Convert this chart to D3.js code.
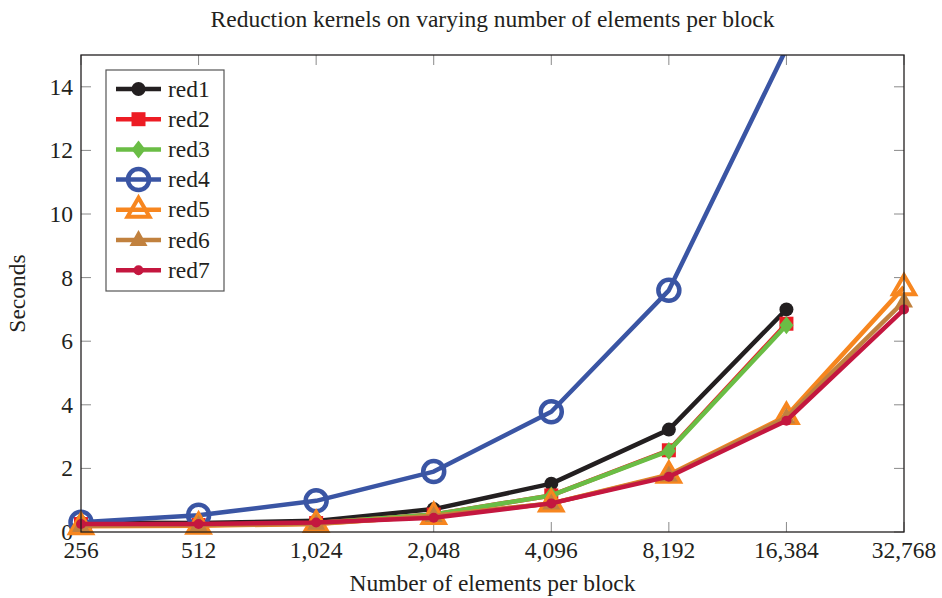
<!DOCTYPE html>
<html>
<head>
<meta charset="utf-8">
<script src="https://cdn.jsdelivr.net/npm/d3@7"></script>
<style>
  body { margin: 0; background: #fff; }
  svg { display: block; font-family: 'Liberation Serif', 'DejaVu Serif', serif; }
</style>
</head>
<body>
<div id="chart"></div>
<script>
var sizes = [256, 512, 1024, 2048, 4096, 8192, 16384, 32768];
var tickLabels = ['256', '512', '1,024', '2,048', '4,096', '8,192', '16,384', '32,768'];
var yTicks = [0, 2, 4, 6, 8, 10, 12, 14];

var red1 = [0.30, 0.28, 0.35, 0.72, 1.52, 3.22, 7.0];
var red2 = [0.25, 0.22, 0.28, 0.55, 1.15, 2.57, 6.55];
var red3 = [0.25, 0.22, 0.28, 0.55, 1.15, 2.55, 6.5];
var red4 = [0.31, 0.53, 0.98, 1.9, 3.78, 7.6, 15.2];
var red5 = [0.18, 0.20, 0.25, 0.50, 0.90, 1.80, 3.65, 7.7];
var red6 = [0.20, 0.22, 0.26, 0.50, 0.90, 1.78, 3.6, 7.25];
var red7 = [0.25, 0.25, 0.30, 0.45, 0.90, 1.74, 3.5, 7.0];

var names = ['red1', 'red2', 'red3', 'red4', 'red5', 'red6', 'red7'];
var seriesValues = [red1, red2, red3, red4, red5, red6, red7];
var colors = ['#231f20', '#ed1c24', '#6abd45', '#3a55a4', '#f7861f', '#c1813e', '#c4173f'];
var markers = ['dot', 'square', 'diamond', 'ring', 'otri', 'tri', 'smalldot'];

var W = 942, H = 598;
var plot = { left: 81, right: 904, top: 55, bottom: 532 };
var fs = 23.5;

var svg = d3.select('#chart')
  .append('svg')
    .attr('width', W)
    .attr('height', H);

var x = d3.scaleLog().base(2).domain([256, 32768]).range([plot.left, plot.right]);
var y = d3.scaleLinear().domain([0, 15]).range([plot.bottom, plot.top]);

svg.append('defs').append('clipPath').attr('id', 'clip')
  .append('rect')
    .attr('x', plot.left).attr('y', plot.top)
    .attr('width', plot.right - plot.left).attr('height', plot.bottom - plot.top);

// ticks (inward, mirrored)
var tk = svg.append('g').attr('stroke', '#8a8a8a').attr('stroke-width', 1);
sizes.forEach(s => {
  tk.append('line').attr('x1', x(s)).attr('x2', x(s)).attr('y1', plot.bottom).attr('y2', plot.bottom - 10);
  tk.append('line').attr('x1', x(s)).attr('x2', x(s)).attr('y1', plot.top).attr('y2', plot.top + 10);
});
yTicks.forEach(v => {
  tk.append('line').attr('x1', plot.left).attr('x2', plot.left + 10).attr('y1', y(v)).attr('y2', y(v));
  tk.append('line').attr('x1', plot.right).attr('x2', plot.right - 10).attr('y1', y(v)).attr('y2', y(v));
});

// tick labels
svg.append('g').selectAll('text').data(sizes).enter().append('text')
  .attr('x', d => x(d)).attr('y', 558)
  .attr('text-anchor', 'middle').attr('font-size', fs).attr('fill', '#231f20')
  .text((d, i) => tickLabels[i]);
svg.append('g').selectAll('text').data(yTicks).enter().append('text')
  .attr('x', 73).attr('y', d => y(d) + 8)
  .attr('text-anchor', 'end').attr('font-size', fs).attr('fill', '#231f20')
  .text(d => d);

// titles
svg.append('text').attr('x', (plot.left + plot.right) / 2).attr('y', 27)
  .attr('text-anchor', 'middle').attr('font-size', fs).attr('fill', '#231f20')
  .text('Reduction kernels on varying number of elements per block');
svg.append('text').attr('x', (plot.left + plot.right) / 2).attr('y', 591)
  .attr('text-anchor', 'middle').attr('font-size', fs).attr('fill', '#231f20')
  .text('Number of elements per block');
svg.append('text').attr('transform', `translate(25, ${(plot.top + plot.bottom) / 2}) rotate(-90)`)
  .attr('text-anchor', 'middle').attr('font-size', fs).attr('fill', '#231f20')
  .text('Seconds');

function drawMarker (g, kind, color, cx, cy) {
  if (kind === 'dot') {
    g.append('circle').attr('cx', cx).attr('cy', cy).attr('r', 7).attr('fill', color);
  } else if (kind === 'smalldot') {
    g.append('circle').attr('cx', cx).attr('cy', cy).attr('r', 5).attr('fill', color);
  } else if (kind === 'ring') {
    g.append('circle').attr('cx', cx).attr('cy', cy).attr('r', 10.5)
      .attr('fill', 'none').attr('stroke', color).attr('stroke-width', 4.5);
  } else if (kind === 'square') {
    g.append('rect').attr('x', cx - 7).attr('y', cy - 7).attr('width', 14).attr('height', 14).attr('fill', color);
  } else if (kind === 'diamond') {
    g.append('path').attr('d', `M${cx},${cy - 9}L${cx + 7},${cy}L${cx},${cy + 9}L${cx - 7},${cy}Z`).attr('fill', color);
  } else if (kind === 'otri') {
    g.append('path').attr('d', `M${cx},${cy - 12}L${cx + 11},${cy + 7}L${cx - 11},${cy + 7}Z`)
      .attr('fill', 'none').attr('stroke', color).attr('stroke-width', 4).attr('stroke-linejoin', 'miter');
  } else if (kind === 'tri') {
    g.append('path').attr('d', `M${cx},${cy - 10}L${cx + 9},${cy + 6}L${cx - 9},${cy + 6}Z`).attr('fill', color);
  }
}

var line = d3.line()
  .x((d, i) => x(sizes[i]))
  .y(d => y(d));

var plotG = svg.append('g');
seriesValues.forEach((vals, k) => {
  plotG.append('path')
    .attr('d', line(vals))
    .attr('clip-path', 'url(#clip)')
    .attr('fill', 'none')
    .attr('stroke', colors[k])
    .attr('stroke-width', 4.5)
    .attr('stroke-linejoin', 'round');
  var mg = plotG.append('g');
  vals.forEach((v, i) => {
    // points above the y range are not marked
    if (v <= y.domain()[1]) drawMarker(mg, markers[k], colors[k], x(sizes[i]), y(v));
  });
});

// frame
svg.append('rect')
  .attr('x', plot.left).attr('y', plot.top)
  .attr('width', plot.right - plot.left).attr('height', plot.bottom - plot.top)
  .attr('fill', 'none').attr('stroke', '#231f20').attr('stroke-width', 1.3);

// legend
var lg = svg.append('g');
lg.append('rect').attr('x', 106).attr('y', 70).attr('width', 118).attr('height', 221)
  .attr('fill', '#fff').attr('stroke', '#555').attr('stroke-width', 1.2);
names.forEach((n, k) => {
  var ly = 89 + k * 30.2;
  lg.append('line').attr('x1', 116).attr('x2', 161).attr('y1', ly).attr('y2', ly)
    .attr('stroke', colors[k]).attr('stroke-width', 4.5);
  drawMarker(lg, markers[k], colors[k], 138.5, ly);
  lg.append('text').attr('x', 168).attr('y', ly + 7.5).attr('font-size', fs).attr('fill', '#231f20').text(n);
});
</script>
</body>
</html>
